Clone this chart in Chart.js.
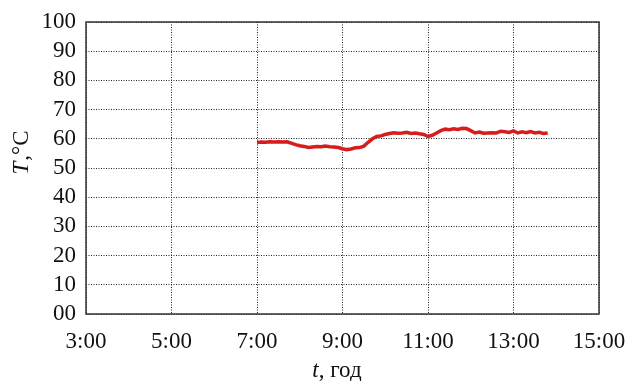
<!DOCTYPE html>
<html>
<head>
<meta charset="utf-8">
<script src="https://cdn.jsdelivr.net/npm/chart.js@4/dist/chart.umd.min.js"></script>
<style>
html,body{margin:0;padding:0;background:#fff;}
#wrap{width:627px;height:381px;position:relative;}
</style>
</head>
<body>
<div id="wrap"><canvas id="c" width="627" height="381"></canvas></div>
<script>
// time in hours
const timeHours = [7.0,7.1,7.2,7.3,7.4,7.5,7.6,7.7,7.8,7.9,8.0,8.1,8.2,8.3,8.4,8.5,8.6,8.7,8.8,8.9,9.0,9.1,9.2,9.3,9.4,9.5,9.6,9.7,9.8,9.9,10.0,10.1,10.2,10.3,10.4,10.5,10.6,10.7,10.8,10.9,11.0,11.1,11.2,11.3,11.4,11.5,11.6,11.7,11.8,11.9,12.0,12.1,12.2,12.3,12.4,12.5,12.6,12.7,12.8,12.9,13.0,13.1,13.2,13.3,13.4,13.5,13.6,13.7,13.8];
const temperature = [58.7,58.9,58.8,59.0,58.9,59.0,58.9,59.0,58.5,58.0,57.6,57.4,57.0,57.2,57.4,57.3,57.5,57.3,57.2,57.0,56.6,56.3,56.5,56.9,57.0,57.5,58.8,60.0,60.8,61.0,61.5,61.8,62.1,61.9,62.0,62.2,61.8,62.0,61.7,61.5,60.8,61.2,62.0,62.8,63.3,63.1,63.4,63.2,63.6,63.5,62.8,62.0,62.3,61.9,62.0,62.1,62.0,62.6,62.4,62.2,62.7,62.0,62.4,62.1,62.5,62.0,62.2,61.8,62.0];
const xTicks = [3,5,7,9,11,13,15];
const yTicks = [0,10,20,30,40,50,60,70,80,90,100];

const points = timeHours.map((t,i)=>({x:t,y:temperature[i]}));
const FONT = "'Liberation Serif','DejaVu Serif',serif";
const FS = 23;

const frame = {
  id:'frame',
  afterDatasetsDraw(chart){
    const {ctx, chartArea:a} = chart;
    ctx.save();
    ctx.strokeStyle = '#333';
    ctx.lineWidth = 1.5;
    ctx.strokeRect(a.left, a.top, a.right-a.left, a.bottom-a.top);
    ctx.restore();
  },
  afterDraw(chart){
    const {ctx, chartArea:a} = chart;
    ctx.save();
    ctx.fillStyle = '#111';
    ctx.textBaseline = 'middle';
    // y title
    ctx.translate(22, 153);
    ctx.rotate(-Math.PI/2);
    ctx.font = "italic "+FS+"px " + FONT;
    const p1 = 'T', p2 = ',°C';
    const w1 = ctx.measureText(p1).width;
    ctx.font = FS+"px " + FONT;
    const w2 = ctx.measureText(p2).width;
    let sx = -(w1+w2)/2;
    ctx.font = "italic "+FS+"px " + FONT;
    ctx.textAlign='left';
    ctx.fillText(p1, sx, 0);
    ctx.font = FS+"px " + FONT;
    ctx.fillText(p2, sx+w1+1, 0);
    ctx.restore();
    // x title
    ctx.save();
    ctx.fillStyle = '#111';
    ctx.textBaseline = 'middle';
    ctx.textAlign='left';
    ctx.font = "italic "+FS+"px " + FONT;
    const q1='t', q2=', год';
    const v1 = ctx.measureText(q1).width;
    ctx.font = FS+"px " + FONT;
    const v2 = ctx.measureText(q2).width;
    const cx = 337;
    let tx = cx - (v1+v2)/2;
    ctx.font = "italic "+FS+"px " + FONT;
    ctx.fillText(q1, tx, 371);
    ctx.font = FS+"px " + FONT;
    ctx.fillText(q2, tx+v1, 371);
    ctx.restore();
  }
};

new Chart(document.getElementById('c'), {
  type:'line',
  data:{datasets:[{
    data:points,
    borderColor:'#d61c1c',
    borderWidth:3.5,
    pointRadius:0,
    tension:0,
    fill:false
  }]},
  options:{
    responsive:false,
    animation:false,
    layout:{padding:{top:22,right:28,left:0,bottom:0}},
    plugins:{legend:{display:false},tooltip:{enabled:false}},
    scales:{
      x:{
        type:'linear',
        min:3,max:15,
        afterBuildTicks(s){ s.ticks = xTicks.map(v=>({value:v})); },
        afterFit(s){ s.height = 67; s.paddingLeft = 0; s.paddingRight = 0; },
        ticks:{
          color:'#111',
          font:{family:FONT,size:FS},
          padding:14,
          maxRotation:0,
          autoSkip:false,
          callback:(v)=> v + ':00'
        },
        grid:{color:'#222',lineWidth:1,drawTicks:false,tickLength:0},
        border:{display:false,dash:[1,1.5]}
      },
      y:{
        min:0,max:100,
        afterBuildTicks(s){ s.ticks = yTicks.map(v=>({value:v})); },
        afterFit(s){ s.width = 86; s.paddingTop = 0; s.paddingBottom = 0; },
        ticks:{
          color:'#111',
          font:{family:FONT,size:FS},
          padding:10,
          autoSkip:false,
          callback:(v)=> v===0 ? '00' : String(v)
        },
        grid:{color:'#222',lineWidth:1,drawTicks:false,tickLength:0},
        border:{display:false,dash:[1,1.5]}
      }
    }
  },
  plugins:[frame]
});
</script>
</body>
</html>
